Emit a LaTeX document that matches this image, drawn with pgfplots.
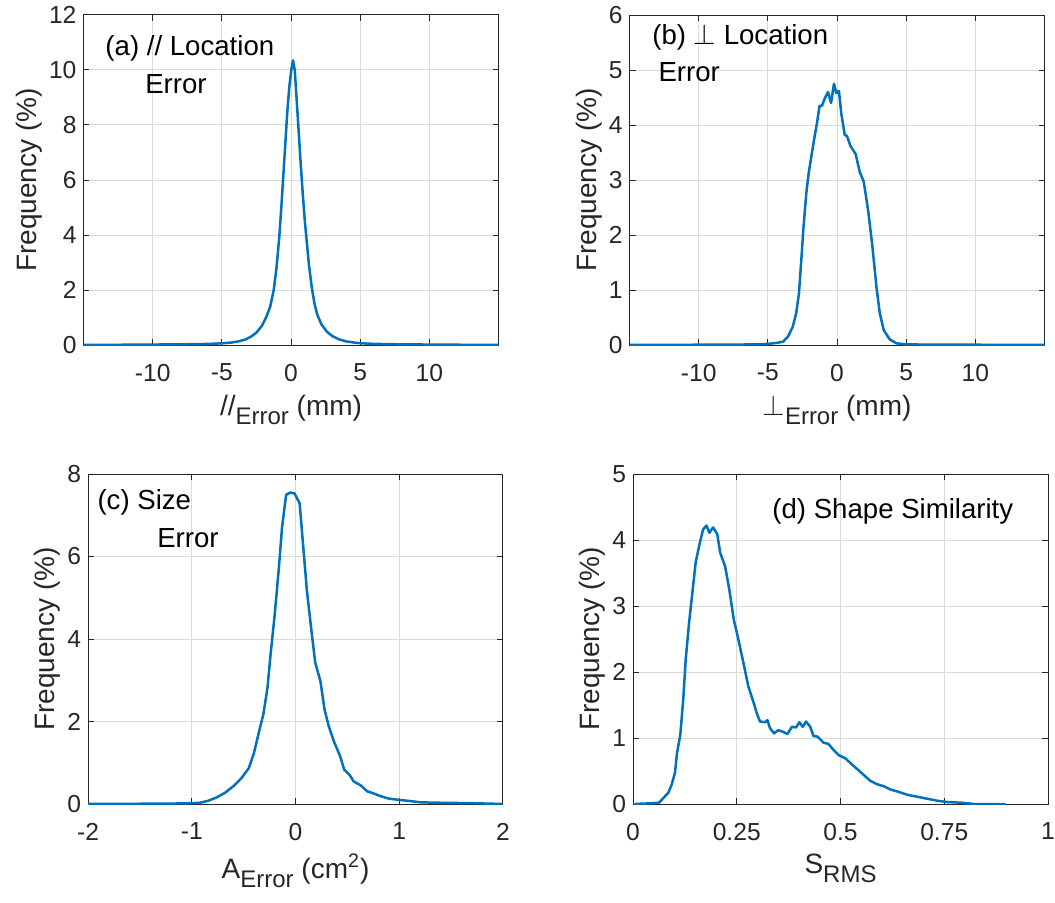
\documentclass[border=0pt]{standalone}
\usepackage{pgfplots}
\pgfplotsset{compat=1.18}
\usepackage{fontspec}
\setmainfont{Liberation Sans}
\definecolor{mblue}{HTML}{0072BD}
\definecolor{mgray}{HTML}{262626}
\definecolor{mgrid}{HTML}{DADADA}

\pgfplotsset{
  mstyle/.style={
    scale only axis,
    width=207.5pt, height=165pt,
    axis line style={mgray, line width=0.5pt},
    tick style={mgray, line width=0.5pt},
    tick align=inside,
    major tick length=3pt,
    grid=major,
    grid style={mgrid, line width=0.5pt},
    tick label style={font=\fontsize{12.3}{14}\selectfont, text=mgray},
    xticklabel style={yshift=-6pt},
    label style={font=\fontsize{14}{16}\selectfont, text=mgray},
    ylabel style={yshift=-3.5pt},
    /pgf/number format/assume math mode=true,
    ylabel={Frequency (\%)},
    ymin=0,
  },
  curve/.style={mblue, line width=1.25pt, no marks, line join=round},
}
\tikzset{note/.style={font=\fontsize{13.8}{16}\selectfont, anchor=west, inner sep=0pt}}

\begin{document}
\begin{tikzpicture}[x=1pt,y=1pt]
\useasboundingbox (0,0) rectangle (527.5,451);

% (a)
\begin{axis}[mstyle, at={(41.75pt,278.5pt)}, anchor=south west,
  xmin=-15, xmax=15, ymax=12,
  xtick={-10,-5,0,5,10}, ytick={0,2,...,12},
  xlabel={//\raisebox{-0.6ex}{\fontsize{12}{12}\selectfont Error} (mm)}]
\addplot[curve] coordinates {
(-15,0) (-12,0.01) (-9,0.02) (-7,0.03) (-6,0.04) (-5,0.06) (-4.3,0.09)
(-3.8,0.13) (-3.3,0.2) (-2.9,0.3) (-2.5,0.45) (-2.1,0.7) (-1.8,1.0)
(-1.5,1.4) (-1.25,2.0) (-1.05,2.8) (-0.85,3.9) (-0.7,5.0) (-0.55,6.2)
(-0.4,7.4) (-0.28,8.4) (-0.12,9.4) (0.02,10.0) (0.15,10.35) (0.27,10.0)
(0.4,9.0) (0.55,7.8) (0.7,6.6) (0.85,5.5) (1.0,4.5) (1.15,3.7) (1.3,2.9)
(1.5,2.1) (1.7,1.5) (1.9,1.1) (2.2,0.75) (2.6,0.48) (3.0,0.32) (3.5,0.2)
(4.0,0.13) (4.7,0.08) (5.5,0.05) (7,0.03) (9,0.02) (12,0.01) (15,0)
};
\node[note] at (rel axis cs:0.052,0.90) {(a) // Location};
\node[note] at (rel axis cs:0.148,0.79) {Error};
\end{axis}

% (b)
\begin{axis}[mstyle, at={(314.75pt,278.5pt)}, anchor=south west,
  xmin=-15, xmax=15, ymax=6,
  xtick={-10,-5,0,5,10}, ytick={0,1,...,6},
  xlabel={$\perp$\raisebox{-0.6ex}{\fontsize{12}{12}\selectfont Error} (mm)}]
\addplot[curve] coordinates {
(-15,0) (-10,0.005) (-6,0.01) (-5,0.02) (-4.3,0.04) (-3.9,0.06)
(-3.55,0.15) (-3.2,0.33) (-2.95,0.58) (-2.75,0.94) (-2.58,1.55)
(-2.42,2.15) (-2.22,2.76) (-2.05,3.12) (-1.86,3.42) (-1.62,3.79)
(-1.45,4.03) (-1.26,4.35) (-1.09,4.35) (-0.89,4.48) (-0.65,4.6)
(-0.43,4.4) (-0.22,4.75) (-0.05,4.58) (0.14,4.62) (0.31,4.21)
(0.56,3.82) (0.72,3.8) (0.97,3.62) (1.35,3.47) (1.64,3.15) (1.93,2.97)
(2.25,2.45) (2.56,1.79) (2.85,1.06) (3.09,0.58) (3.38,0.27) (3.82,0.1)
(4.3,0.03) (5,0.01) (10,0.005) (15,0)
};
\node[note] at (rel axis cs:0.054,0.933) {(b) $\perp$ Location};
\node[note] at (rel axis cs:0.069,0.827) {Error};
\end{axis}

% (c)
\begin{axis}[mstyle, at={(44pt,49pt)}, anchor=south west,
  xmin=-2, xmax=2, ymax=8,
  xtick={-2,-1,0,1,2}, ytick={0,2,...,8},
  xlabel={A\raisebox{-0.6ex}{\fontsize{12}{12}\selectfont Error} (cm\textsuperscript{2})}]
\addplot[curve] coordinates {
(-2,0) (-1.6,0.005) (-1.2,0.01) (-1.0,0.02) (-0.92,0.03) (-0.84,0.08)
(-0.76,0.16) (-0.68,0.27) (-0.6,0.43) (-0.52,0.63) (-0.45,0.87)
(-0.4,1.24) (-0.35,1.77) (-0.31,2.17) (-0.27,2.82) (-0.24,3.63)
(-0.2,4.6) (-0.16,5.73) (-0.13,6.7) (-0.09,7.5) (-0.05,7.55) (-0.01,7.53)
(0.04,7.29) (0.07,6.38) (0.11,5.17) (0.15,4.28) (0.19,3.43) (0.24,2.98)
(0.28,2.29) (0.32,1.89) (0.37,1.52) (0.43,1.16) (0.47,0.83) (0.52,0.71)
(0.56,0.55) (0.63,0.45) (0.69,0.31) (0.76,0.25) (0.82,0.19) (0.9,0.13)
(1.0,0.1) (1.11,0.07) (1.21,0.04) (1.4,0.03) (1.7,0.02) (2,0)
};
\node[note] at (rel axis cs:0.022,0.913) {(c) Size};
\node[note] at (rel axis cs:0.166,0.807) {Error};
\end{axis}

% (d)
\begin{axis}[mstyle, at={(316.5pt,49pt)}, anchor=south west,
  xmin=0, xmax=1, ymax=5,
  xtick={0,0.25,0.5,0.75,1}, xticklabels={0,0.25,0.5,0.75,1},
  ytick={0,1,...,5},
  xlabel={S\raisebox{-0.6ex}{\fontsize{12}{12}\selectfont RMS}}]
\addplot[curve] coordinates {
(0.004,0) (0.04,0.01) (0.063,0.02) (0.073,0.09) (0.085,0.17) (0.093,0.29)
(0.101,0.47) (0.106,0.77) (0.114,1.05) (0.121,1.58) (0.127,2.19)
(0.135,2.74) (0.143,3.2) (0.151,3.66) (0.161,3.96) (0.169,4.16)
(0.177,4.22) (0.184,4.11) (0.193,4.19) (0.203,4.09) (0.21,3.81)
(0.222,3.6) (0.232,3.25) (0.243,2.79) (0.254,2.49) (0.266,2.14)
(0.278,1.78) (0.29,1.55) (0.298,1.38) (0.306,1.25) (0.318,1.24)
(0.324,1.27) (0.33,1.15) (0.34,1.07) (0.35,1.12) (0.363,1.09)
(0.372,1.06) (0.383,1.17) (0.393,1.16) (0.401,1.24) (0.409,1.17)
(0.417,1.25) (0.427,1.17) (0.435,1.03) (0.445,1.02) (0.459,0.93)
(0.471,0.91) (0.483,0.82) (0.496,0.74) (0.512,0.69) (0.524,0.62)
(0.54,0.53) (0.556,0.44) (0.572,0.35) (0.588,0.3) (0.604,0.27)
(0.62,0.22) (0.637,0.19) (0.661,0.14) (0.685,0.11) (0.709,0.08)
(0.733,0.05) (0.757,0.03) (0.79,0.02) (0.822,0.0) (0.898,0)
};
\node[note] at (rel axis cs:0.335,0.887) {(d) Shape Similarity};
\end{axis}
\end{tikzpicture}
\end{document}
